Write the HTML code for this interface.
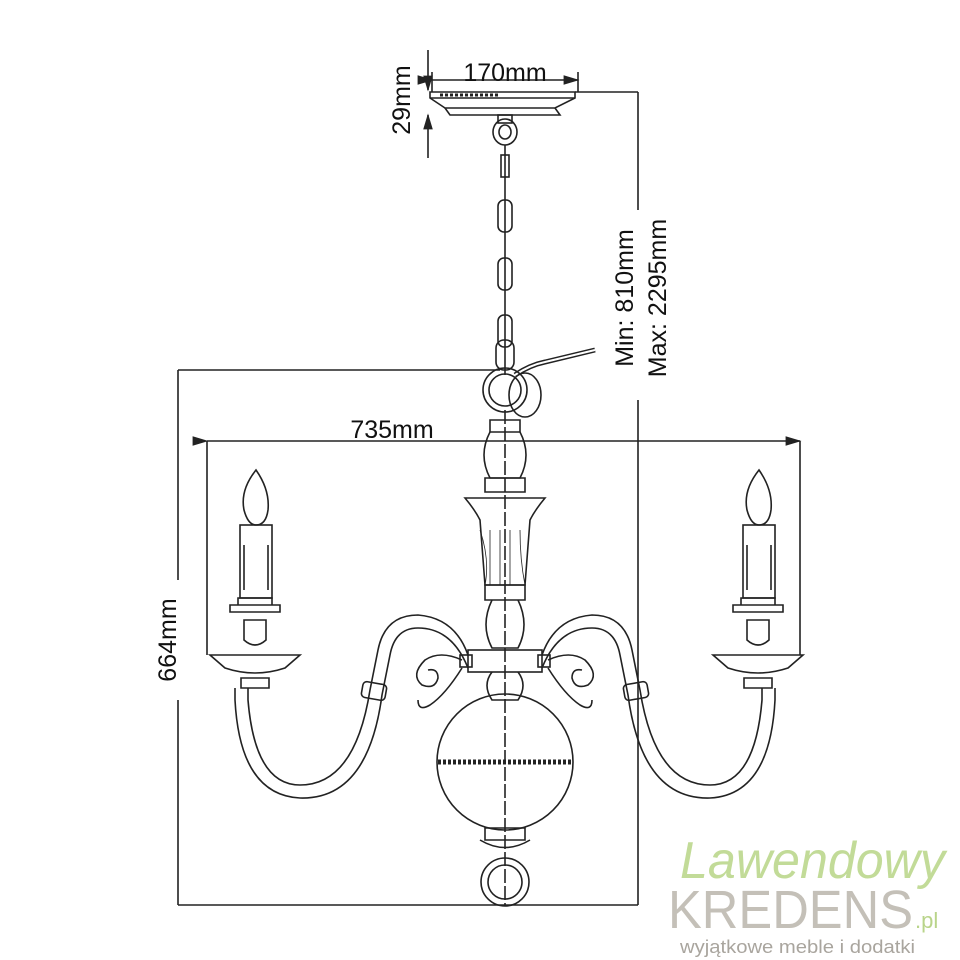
<!DOCTYPE html>
<html><head><meta charset="utf-8"><style>
html,body{margin:0;padding:0;background:#fff;width:960px;height:960px;overflow:hidden}
svg{display:block}
text{font-family:"Liberation Sans",sans-serif}
</style></head><body>
<svg width="960" height="960" viewBox="0 0 960 960" xmlns="http://www.w3.org/2000/svg">
<defs><marker id="a" markerWidth="10" markerHeight="10" refX="9" refY="5" orient="auto"><path d="M0,2 L10,5 L0,8z" fill="#222"/></marker></defs>
<g stroke="#222" stroke-width="1.6" fill="none">
<line x1="432" y1="80" x2="578" y2="80" marker-start="url(#a)" marker-end="url(#a)"/>
<line x1="432" y1="72" x2="432" y2="92"/><line x1="578" y1="72" x2="578" y2="92"/>
<line x1="428" y1="50" x2="428" y2="90" marker-end="url(#a)"/><line x1="428" y1="158" x2="428" y2="115" marker-end="url(#a)"/>
<line x1="575" y1="92" x2="638" y2="92"/>
<line x1="638" y1="92" x2="638" y2="210"/><line x1="638" y1="400" x2="638" y2="905"/>
<line x1="178" y1="370" x2="500" y2="370"/>
<line x1="178" y1="370" x2="178" y2="580"/><line x1="178" y1="700" x2="178" y2="905"/>
<line x1="178" y1="905" x2="638" y2="905"/>
<line x1="207" y1="441" x2="800" y2="441" marker-start="url(#a)" marker-end="url(#a)"/>
<line x1="207" y1="441" x2="207" y2="655"/><line x1="800" y1="441" x2="800" y2="655"/>
<path d="M430,92 H575 V98 L555,108 H445 L430,98 Z"/>
<path d="M430,98 H575 M445,108 L450,115 H560 L555,108"/>
<path d="M440,95 H500" stroke-dasharray="3,2" stroke-width="3"/>
<rect x="498" y="115" width="14" height="8"/>
<ellipse cx="505" cy="132" rx="12" ry="13"/><ellipse cx="505" cy="132" rx="6" ry="7"/>
<line x1="505" y1="145" x2="505" y2="375"/>
<rect x="501" y="155" width="8" height="22"/>
<rect x="498" y="200" width="14" height="32" rx="6"/>
<rect x="498" y="258" width="14" height="32" rx="6"/>
<rect x="498" y="315" width="14" height="32" rx="6"/>
<rect x="496" y="340" width="18" height="30" rx="8"/>
<path d="M515,375 Q530,365 545,362 L595,350" stroke-width="5"/>
<path d="M515,375 Q530,365 545,362 L595,350" stroke="#fff" stroke-width="2"/>
<circle cx="505" cy="390" r="22"/><circle cx="505" cy="390" r="16"/>
<ellipse cx="525" cy="395" rx="16" ry="22"/>
<line x1="505" y1="410" x2="505" y2="905" stroke-dasharray="14,3"/>
<path d="M490,420 H520 V432 H490 Z"/>
<path d="M490,432 Q478,455 490,478 H520 Q532,455 520,432"/>
<path d="M485,478 H525 V492 H485 Z"/>
<path d="M465,498 H545 Q535,510 530,520 L525,585 H485 L480,520 Q475,510 465,498 Z"/>
<path d="M480,530 Q490,560 485,585 M490,530 V585 M500,530 V585 M510,530 V585 M520,530 Q520,560 525,585" stroke-width="0.8"/>
<path d="M485,585 H525 V600 H485 Z"/>
<path d="M492,600 Q480,625 492,648 H518 Q530,625 518,600"/>
<rect x="468" y="650" width="74" height="22"/>
<rect x="460" y="655" width="12" height="12"/><rect x="538" y="655" width="12" height="12"/>
<path d="M492,672 Q482,685 492,700 H518 Q528,685 518,672"/>
<circle cx="505" cy="762" r="68"/>
<path d="M438,762 H572" stroke-width="5" stroke-dasharray="3,2"/>
<path d="M485,828 H525 V840 H485 Z M480,840 Q505,855 530,840"/>
<circle cx="505" cy="882" r="24"/><circle cx="505" cy="882" r="17"/>
<path d="M462,660 Q440,650 425,660 Q410,675 422,685 Q435,690 438,678 Q438,668 428,670"/>
<path d="M462,668 Q445,695 430,705 Q418,712 418,700"/>
<path d="M548,660 Q570,650 585,660 Q600,675 588,685 Q575,690 572,678 Q572,668 582,670"/>
<path d="M548,668 Q565,695 580,705 Q592,712 592,700"/>
<path d="M468,655 Q455,618 418,615 Q385,615 378,650 L370,690 Q355,785 300,785 Q255,785 248,700 V688"/>
<path d="M468,668 Q452,628 418,628 Q395,628 390,655 L382,695 Q368,800 300,798 Q240,795 235,700 V688"/>
<rect x="362" y="683" width="24" height="16" rx="4" transform="rotate(10 374 691)"/>
<path d="M542,655 Q555,618 592,615 Q625,615 632,650 L640,690 Q655,785 710,785 Q755,785 762,700 V688"/>
<path d="M542,668 Q558,628 592,628 Q615,628 620,655 L628,695 Q642,800 710,798 Q770,795 775,700 V688"/>
<rect x="624" y="683" width="24" height="16" rx="4" transform="rotate(-10 636 691)"/>
<path d="M241,678 H269 V688 H241 Z"/>
<path d="M210,655 H300 L285,668 Q255,678 225,668 Z"/>
<path d="M244,640 Q255,650 266,640 V620 H244 Z"/>
<path d="M230,605 H280 V612 H230 Z M238,598 H272 V605 H238 Z"/>
<rect x="240" y="525" width="32" height="73"/>
<path d="M244,545 V590 M268,545 V590"/>
<path d="M256,470 Q240,490 244,510 Q248,525 256,525 Q266,525 268,510 Q270,490 256,470 Z"/>
<path d="M744,678 H772 V688 H744 Z"/>
<path d="M713,655 H803 L788,668 Q758,678 728,668 Z"/>
<path d="M747,640 Q758,650 769,640 V620 H747 Z"/>
<path d="M733,605 H783 V612 H733 Z M741,598 H775 V605 H741 Z"/>
<rect x="743" y="525" width="32" height="73"/>
<path d="M747,545 V590 M771,545 V590"/>
<path d="M759,470 Q743,490 747,510 Q751,525 759,525 Q769,525 771,510 Q773,490 759,470 Z"/>
</g>
<g fill="#111" font-size="25">
<text x="505" y="81" text-anchor="middle">170mm</text>
<text x="392" y="438" text-anchor="middle">735mm</text>
<text transform="translate(410,100) rotate(-90)" text-anchor="middle">29mm</text>
<text transform="translate(176,640) rotate(-90)" text-anchor="middle">664mm</text>
<text transform="translate(633,298) rotate(-90)" text-anchor="middle">Min: 810mm</text>
<text transform="translate(666,298) rotate(-90)" text-anchor="middle">Max: 2295mm</text>
</g>
<text x="680" y="878" font-family="'Liberation Serif',serif" font-style="italic" font-size="52" fill="#c2db98" textLength="265" lengthAdjust="spacingAndGlyphs">Lawendowy</text>
<text x="668" y="928" font-size="54" fill="#c4c0b8" textLength="245" lengthAdjust="spacingAndGlyphs">KREDENS</text>
<text x="915" y="928" font-size="22" fill="#b9d48a">.pl</text>
<text x="680" y="953" font-size="18" fill="#a9a59e" textLength="235" lengthAdjust="spacingAndGlyphs">wyjątkowe meble i dodatki</text>
</svg>
</body></html>
